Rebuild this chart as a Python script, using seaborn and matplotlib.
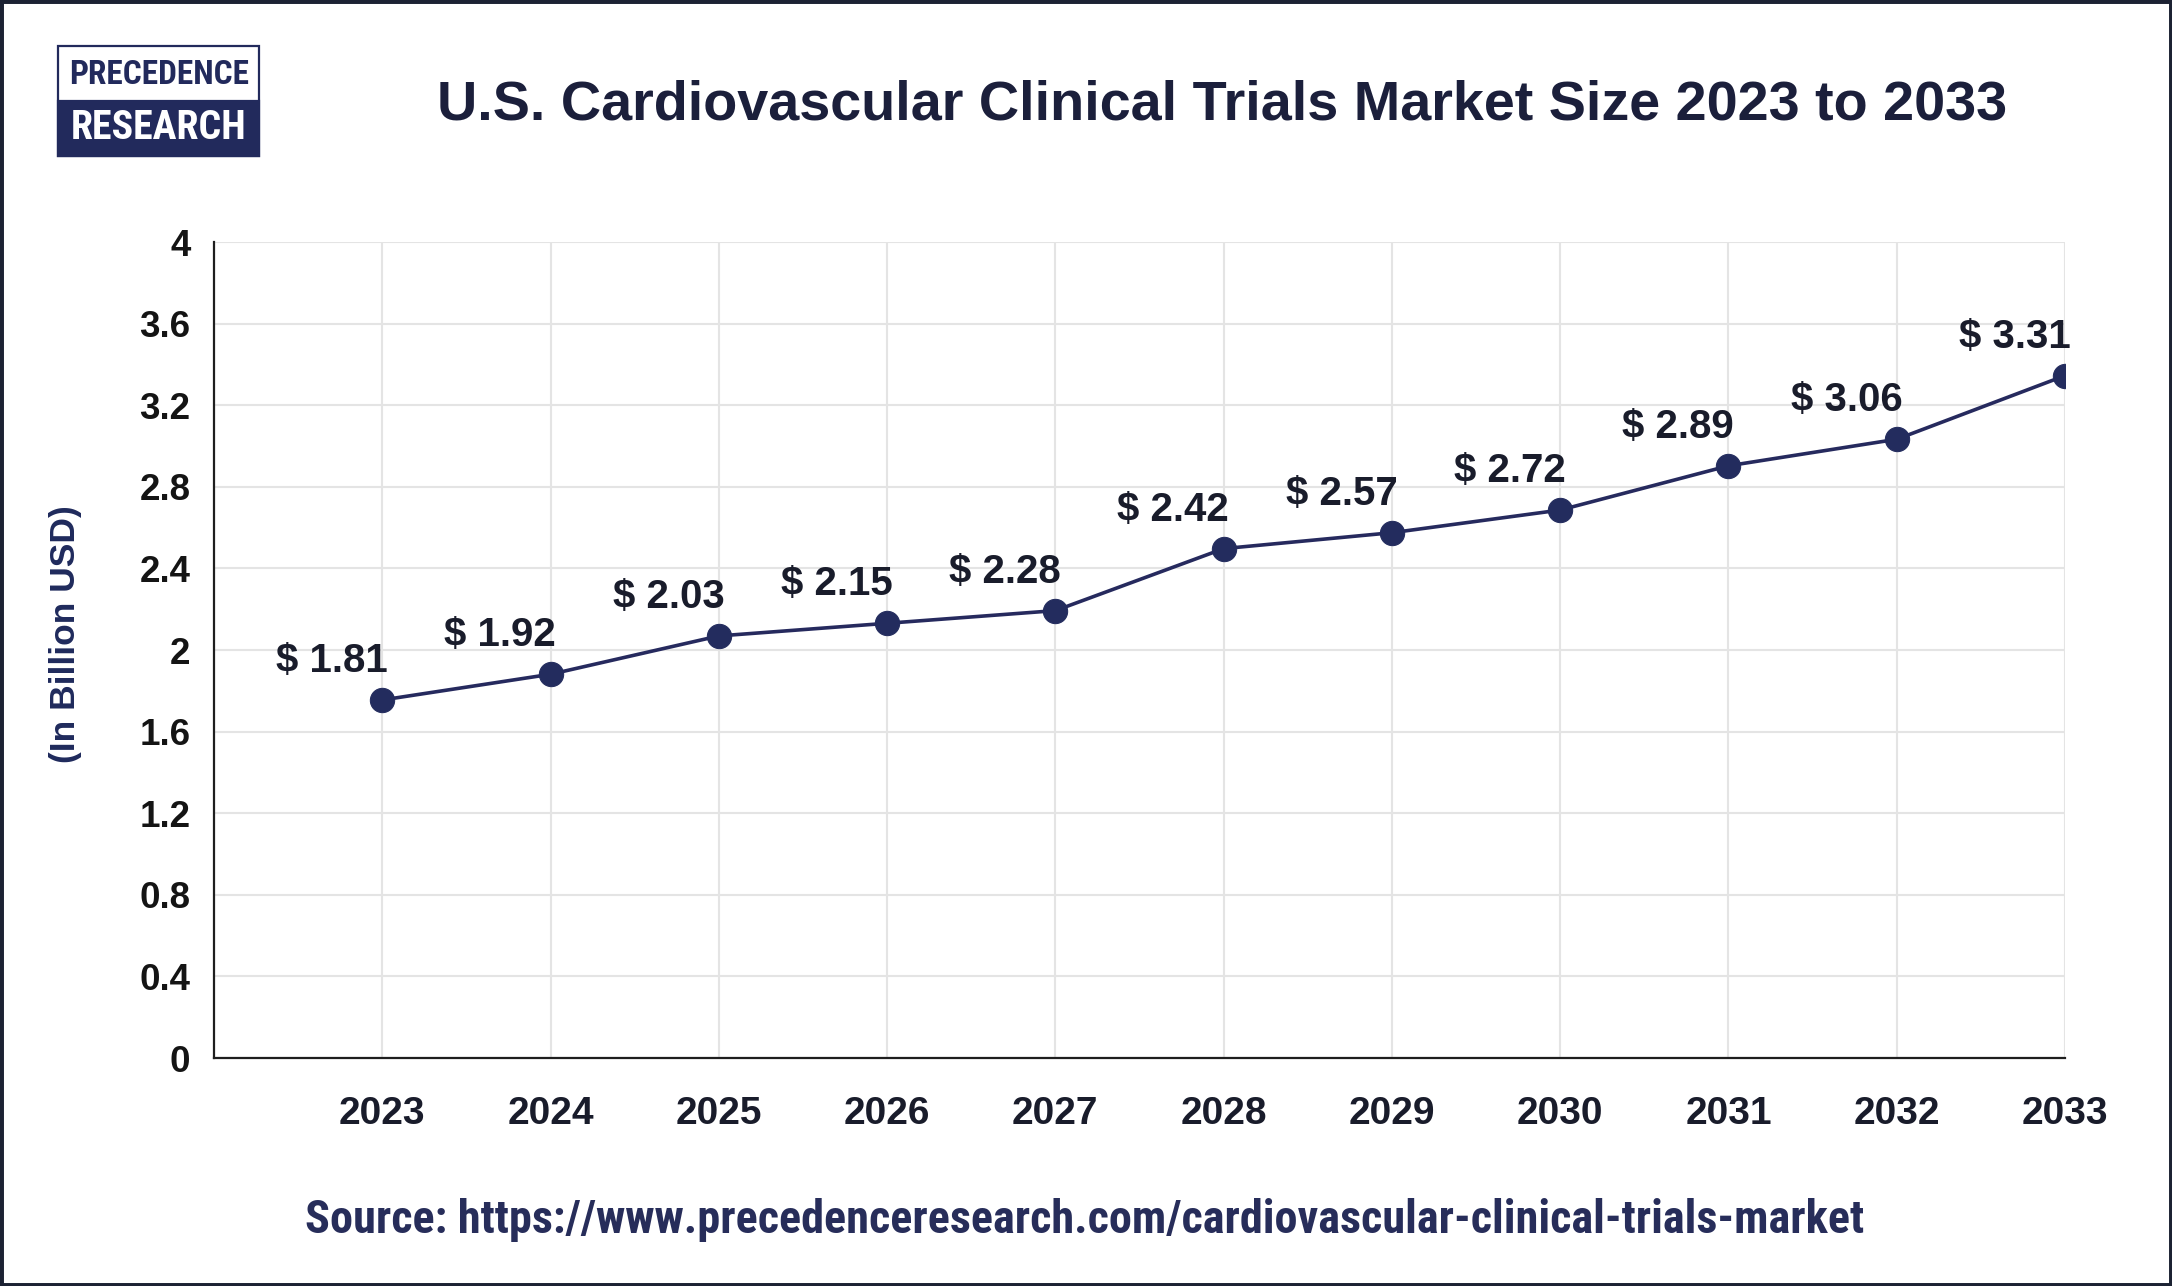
import numpy as np
import pandas as pd
import matplotlib
matplotlib.use("Agg")
import matplotlib.pyplot as plt
import seaborn as sns
from matplotlib import font_manager as fm
from matplotlib.patches import Rectangle

# ---------------- data ----------------
years = [2023, 2024, 2025, 2026, 2027, 2028, 2029, 2030, 2031, 2032, 2033]
market_size = [1.755, 1.881, 2.069, 2.131, 2.193, 2.497, 2.575, 2.686, 2.903, 3.033, 3.345]
value_labels = ["$ 1.81", "$ 1.92", "$ 2.03", "$ 2.15", "$ 2.28", "$ 2.42",
                "$ 2.57", "$ 2.72", "$ 2.89", "$ 3.06", "$ 3.31"]
y_ticks = [0, 0.4, 0.8, 1.2, 1.6, 2.0, 2.4, 2.8, 3.2, 3.6, 4.0]
y_tick_labels = ["0", "0.4", "0.8", "1.2", "1.6", "2", "2.4", "2.8", "3.2", "3.6", "4"]
title = "U.S. Cardiovascular Clinical Trials Market Size 2023 to 2033"
y_label = "(In Billion USD)"
source = "Source: https://www.precedenceresearch.com/cardiovascular-clinical-trials-market"
logo_top = "PRECEDENCE"
logo_bottom = "RESEARCH"

# ---------------- style ----------------
sns.set_theme(style="white")
plt.rcParams["font.family"] = ["Liberation Sans", "DejaVu Sans"]

names = {f.name for f in fm.fontManager.ttflist}
narrow = None
for cand in ["Liberation Sans Narrow", "Roboto Condensed", "DejaVu Sans Condensed",
             "Open Sans Condensed"]:
    if cand in names:
        narrow = cand
        break

W, H = 2172, 1286
fig = plt.figure(figsize=(W / 100, H / 100), dpi=100)
fig.patch.set_facecolor("white")

navy = "#222a5c"
text_dark = "#191c2b"

ax = fig.add_axes([214 / W, 1 - 1058 / H, (2065 - 214) / W, (1058 - 242) / H])
df = pd.DataFrame({"Year": years, "Size": market_size})
sns.lineplot(data=df, x="Year", y="Size", ax=ax, color="#262a5e", linewidth=2.6,
             marker="o", markersize=17.5, markerfacecolor="#232c5e",
             markeredgecolor="#232c5e", zorder=5)

ax.set_xlim(2022, 2033)
ax.set_ylim(0, 4)
ax.set_xticks(years)
ax.set_xticklabels([str(y) for y in years])
ax.set_yticks(y_ticks)
ax.set_yticklabels(y_tick_labels)
ax.set_xlabel("")
ax.set_ylabel("")
ax.grid(True, color="#e4e4e4", linewidth=1.5)
ax.set_axisbelow(True)
for s in ["top", "right"]:
    ax.spines[s].set_visible(False)
for s in ["left", "bottom"]:
    ax.spines[s].set_color("#1e1e1e")
    ax.spines[s].set_linewidth(1.6)
ax.tick_params(axis="x", length=6, width=1.5, color="#dddddd", pad=21,
               labelsize=28, labelcolor=text_dark)
ax.tick_params(axis="y", length=0, pad=17, labelsize=26.5, labelcolor="#141414")
for lab in ax.get_xticklabels() + ax.get_yticklabels():
    lab.set_fontweight("bold")

for x, y, lbl in zip(years, market_size, value_labels):
    ax.annotate(lbl, (x, y), xytext=(4, 20), textcoords="offset points",
                ha="right", va="baseline", fontsize=29, fontweight="bold",
                color=text_dark, zorder=6)

renderer = fig.canvas.get_renderer()


def fit(t, target_px):
    w = t.get_window_extent(renderer=renderer).width
    t.set_fontsize(t.get_fontsize() * target_px / w)


t_title = fig.text(1222 / W, 1 - 105 / H, title, ha="center", va="center",
                   fontsize=40, fontweight="bold", color="#1b1f3b")
fit(t_title, 1569)

fig.text(65 / W, 1 - 634 / H, y_label, rotation=90, ha="center", va="center",
         fontsize=25.5, fontweight="bold", color="#1f2a5c")

src_kw = dict(ha="center", va="center", fontsize=27, fontweight="bold", color="#272d5a")
if narrow:
    src_kw["family"] = [narrow, "DejaVu Sans"]
t_src = fig.text(1085 / W, 1 - 1220 / H, source, **src_kw)
fit(t_src, 1559)

# ---------------- logo ----------------
fig.patches.append(Rectangle((58 / W, 1 - 156 / H), 201 / W, 110 / H,
                             transform=fig.transFigure, facecolor="white",
                             edgecolor=navy, linewidth=1.6, zorder=1))
fig.patches.append(Rectangle((58 / W, 1 - 156 / H), 201 / W, 55 / H,
                             transform=fig.transFigure, facecolor=navy,
                             edgecolor=navy, linewidth=1.6, zorder=2))
logo_kw = dict(ha="center", va="center", fontweight="bold", zorder=3, fontsize=20)
if narrow:
    logo_kw["family"] = [narrow, "DejaVu Sans"]
t1 = fig.text(159 / W, 1 - 75 / H, logo_top, color=navy, **logo_kw)
fit(t1, 180)
t2 = fig.text(158.5 / W, 1 - 128 / H, logo_bottom, color="white", **logo_kw)
fit(t2, 176)

# ---------------- border ----------------
fig.patches.append(Rectangle((0, 0), 1, 1, transform=fig.transFigure, fill=False,
                             edgecolor="#1c2233", linewidth=5, zorder=10))

fig.savefig("out.png", dpi=100, facecolor="white")
